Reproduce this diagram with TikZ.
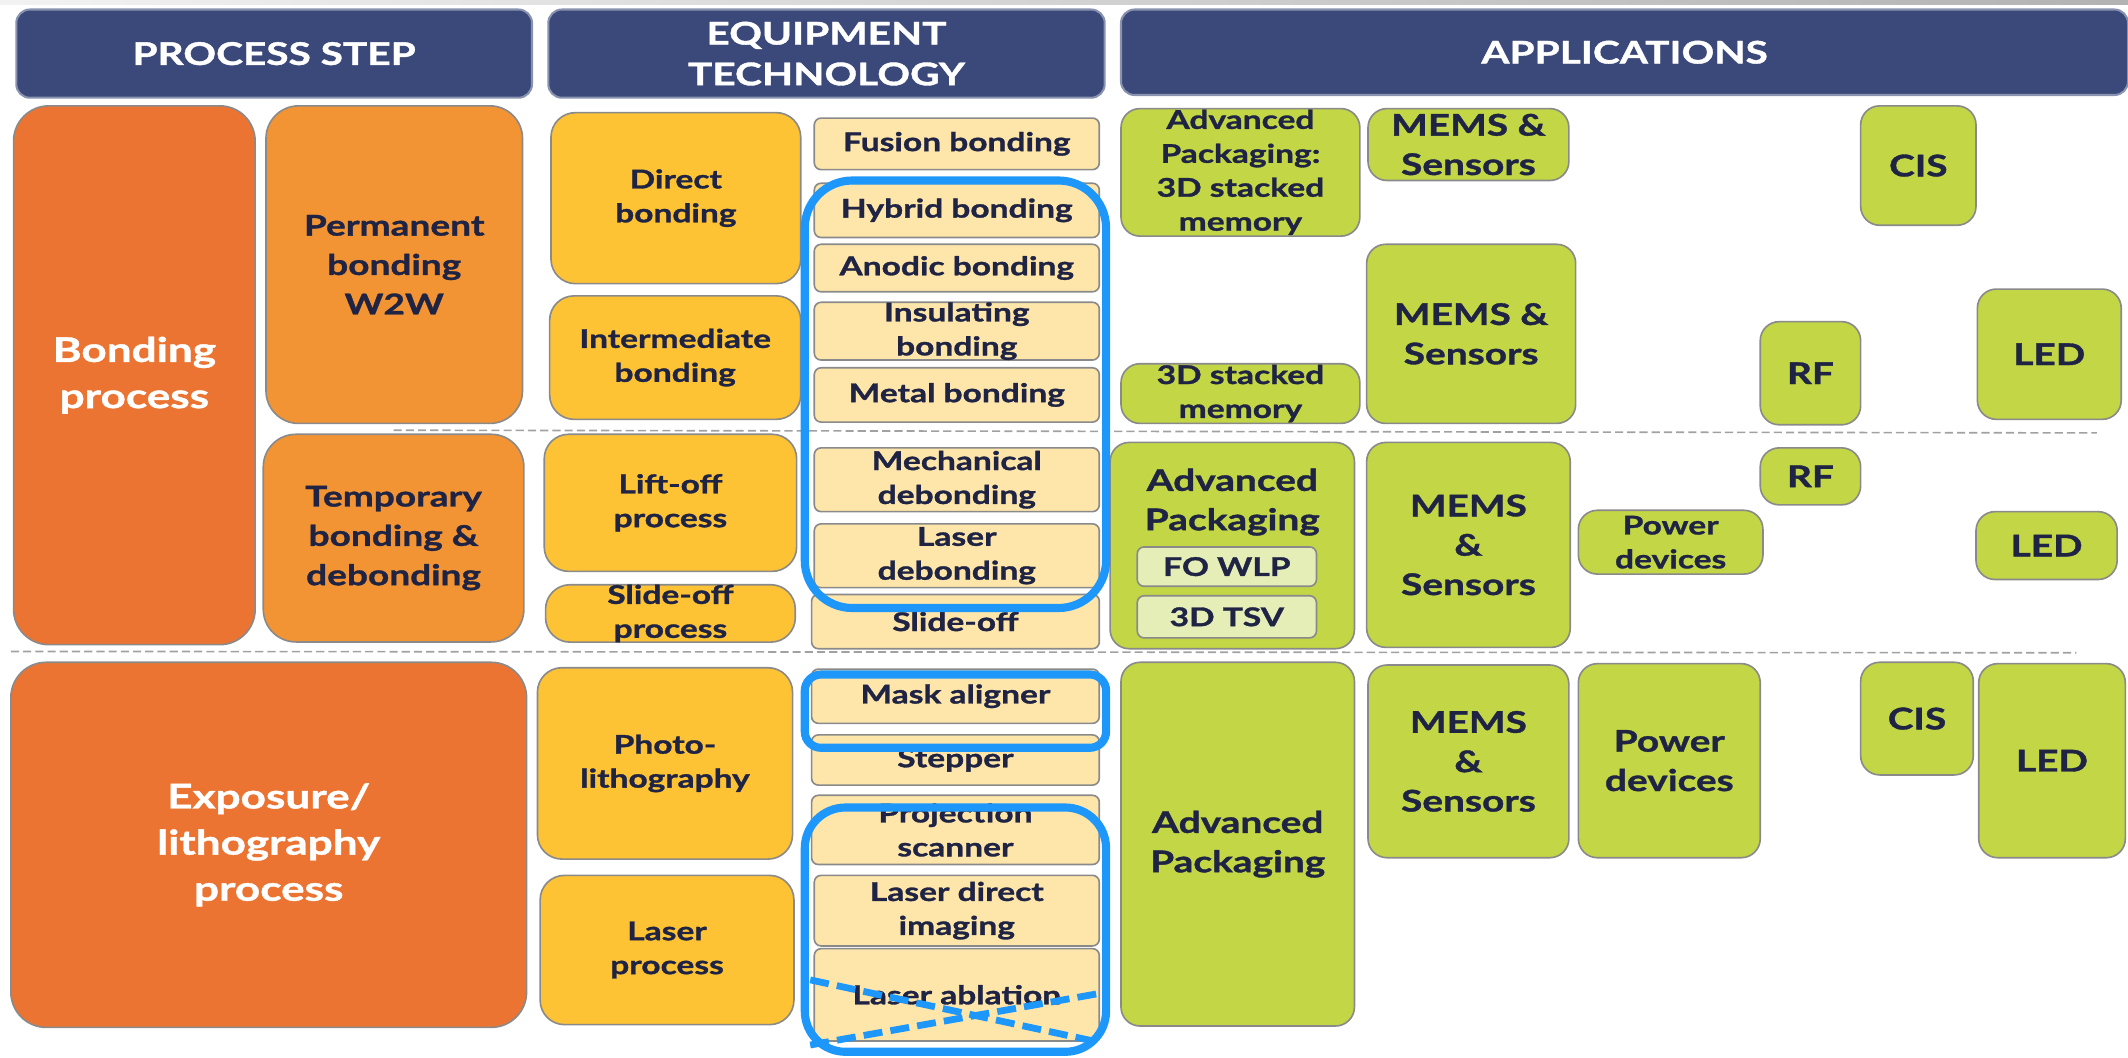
\documentclass[tikz,border=0pt]{standalone}
\usepackage{fontspec}
\setmainfont{Lato}[FakeStretch=1.3, BoldFeatures={FakeBold=1.2}]

\definecolor{hdrblue}{RGB}{59,73,122}
\definecolor{txtdark}{RGB}{31,36,68}
\definecolor{orangeA}{RGB}{236,116,50}
\definecolor{orangeB}{RGB}{242,148,52}
\definecolor{techyel}{RGB}{253,195,52}
\definecolor{equipyel}{RGB}{254,230,170}
\definecolor{appgreen}{RGB}{195,214,69}
\definecolor{subgreen}{RGB}{230,238,184}
\definecolor{hlblue}{RGB}{30,151,251}
\definecolor{edge}{RGB}{138,138,138}

\tikzset{
  sz/.style n args={2}{minimum width=#1, minimum height=#2},
  cell/.style={draw=edge, line width=1.2pt, inner sep=0pt, align=center, text=txtdark},
  hdr/.style={fill=hdrblue, draw=hdrblue!60, line width=1.5pt, rounded corners=10pt, inner sep=0pt,
    align=center, text=white, font=\fontsize{23}{30}\selectfont\bfseries},
  procA/.style={cell, fill=orangeA, rounded corners=26pt, text=white, font=\fontsize{25}{34}\selectfont\bfseries},
  procB/.style={cell, fill=orangeB, rounded corners=24pt, font=\fontsize{21}{29}\selectfont\bfseries},
  tech/.style={cell, fill=techyel, rounded corners=18pt, font=\fontsize{19}{25}\selectfont\bfseries},
  equip/.style={cell, fill=equipyel, rounded corners=5pt, font=\fontsize{19}{25}\selectfont\bfseries},
  app/.style={cell, fill=appgreen, rounded corners=14pt, font=\fontsize{22}{29}\selectfont\bfseries},
  appsm/.style={app, font=\fontsize{19}{25}\selectfont\bfseries},
  appsub/.style={cell, fill=subgreen, rounded corners=5pt, font=\fontsize{19}{25}\selectfont\bfseries},
  hl/.style={draw=hlblue, line width=6pt},
  sep/.style={draw=edge!80, line width=1.2pt, dash pattern=on 6pt off 3pt}
}

\begin{document}
\begin{tikzpicture}[x=1pt,y=-1pt]
\useasboundingbox (0,0) rectangle (1568,779);
\shade[left color=gray!10, right color=gray!60] (0,0) rectangle (1568,3);

% row separators
\draw[sep] (290,317) -- (1545,319);
\draw[sep] (8,480) -- (1530,481);

% column headers
\node[hdr, sz={380}{65}] (hStep) at (202,39.5) {PROCESS STEP};
\node[hdr, sz={410}{65}] (hEquip) at (609,39.5) {EQUIPMENT\\TECHNOLOGY};
\node[hdr, sz={742}{63}] (hApps) at (1197,38.5) {APPLICATIONS};

% process steps
\node[procA, sz={178}{397}] (bond) at (99,276.5) {Bonding\\process};
\node[procA, sz={380}{269}] (expo) at (198,622.5) {Exposure/\\lithography\\process};
\node[procB, sz={189}{234}] (perm) at (290.5,195) {Permanent\\bonding\\W2W};
\node[procB, sz={192}{153}] (temp) at (290,396.5) {Temporary\\bonding \&\\debonding};

% technology groups
\node[tech, sz={184}{126}] (direct) at (498,146) {Direct\\bonding};
\node[tech, sz={185}{91}] (inter) at (497.5,263.5) {Intermediate\\bonding};
\node[tech, sz={186}{101}] (lift) at (494,370.5) {Lift-off\\process};
\node[tech, sz={184}{41}] (slide) at (494,452) {Slide-off\\process};
\node[tech, sz={188}{141}] (photo) at (490,562.5) {Photo-\\lithography};
\node[tech, sz={187}{110}] (laserp) at (491.5,700) {Laser\\process};

% equipment
\node[equip, sz={210}{38}] (fusion) at (705,106) {Fusion bonding};
\node[equip, sz={210}{40}] (hybrid) at (705,155) {Hybrid bonding};
\node[equip, sz={210}{35}] (anodic) at (705,197.5) {Anodic bonding};
\node[equip, sz={210}{42}] (insul) at (705,244) {Insulating\\bonding};
\node[equip, sz={210}{40}] (metal) at (705,291) {Metal bonding};
\node[equip, sz={210}{47}] (mech) at (705,353.5) {Mechanical\\debonding};
\node[equip, sz={210}{47}] (laserd) at (705,409.5) {Laser\\debonding};
\node[equip, sz={212}{40}] (slideoff) at (704,458) {Slide-off};
\node[equip, sz={212}{40}] (mask) at (704,513) {Mask aligner};
\node[equip, sz={212}{37}] (stepper) at (704,560) {Stepper};
\node[equip, sz={212}{51}] (proj) at (704,611.5) {Projection\\scanner};
\node[equip, sz={210}{52}] (ldi) at (705,671) {Laser direct\\imaging};
\node[equip, sz={210}{68}] (ablation) at (705,733) {Laser ablation};

% applications, permanent bonding
\node[appsm, sz={176}{94}] (apA) at (914,127) {Advanced\\Packaging:\\3D stacked\\memory};
\node[app, sz={148}{53}] (memsA) at (1082,106.5) {MEMS \&\\Sensors};
\node[app, sz={85}{88}] (cisA) at (1413.5,122) {CIS};
\node[appsm, sz={176}{44}] (memB) at (914,290) {3D stacked\\memory};
\node[app, sz={154}{132}] (memsB) at (1084,246) {MEMS \&\\Sensors};
\node[app, sz={74}{76}] (rfA) at (1334,275) {RF};
\node[app, sz={106}{96}] (ledA) at (1510,261) {LED};

% applications, temporary bonding
\node[app, sz={180}{152}] (apC) at (908,402) {};
\node[app, draw=none, fill=none] (apCtxt) at (908,370) {Advanced\\Packaging};
\node[appsub, sz={132}{29}] (fowlp) at (904,417.5) {FO WLP};
\node[appsub, sz={132}{31}] (tsv) at (904,454.5) {3D TSV};
\node[app, sz={150}{151}] (memsC) at (1082,401.5) {MEMS\\\&\\Sensors};
\node[appsm, sz={136}{47}] (powC) at (1231,399.5) {Power\\devices};
\node[app, sz={74}{42}] (rfC) at (1334,351) {RF};
\node[app, sz={104}{50}] (ledC) at (1508,402) {LED};

% applications, exposure
\node[app, sz={172}{268}] (apE) at (912,622) {Advanced\\Packaging};
\node[app, sz={148}{142}] (memsE) at (1082,561) {MEMS\\\&\\Sensors};
\node[app, sz={134}{143}] (powE) at (1230,560.5) {Power\\devices};
\node[app, sz={83}{83}] (cisE) at (1412.5,529.5) {CIS};
\node[app, sz={108}{143}] (ledE) at (1512,560.5) {LED};

% highlighted equipment
\draw[hl, rounded corners=35pt] (593,133) rectangle (815,448);
\draw[hl, rounded corners=12pt] (593,497) rectangle (815,551);
\draw[hl, rounded corners=30pt] (593,595) rectangle (815,775);
\draw[hl, line width=5pt, dash pattern=on 14pt off 6pt] (597,722) -- (810,768);
\draw[hl, line width=5pt, dash pattern=on 14pt off 6pt] (597,770) -- (810,732);
\end{tikzpicture}
\end{document}
